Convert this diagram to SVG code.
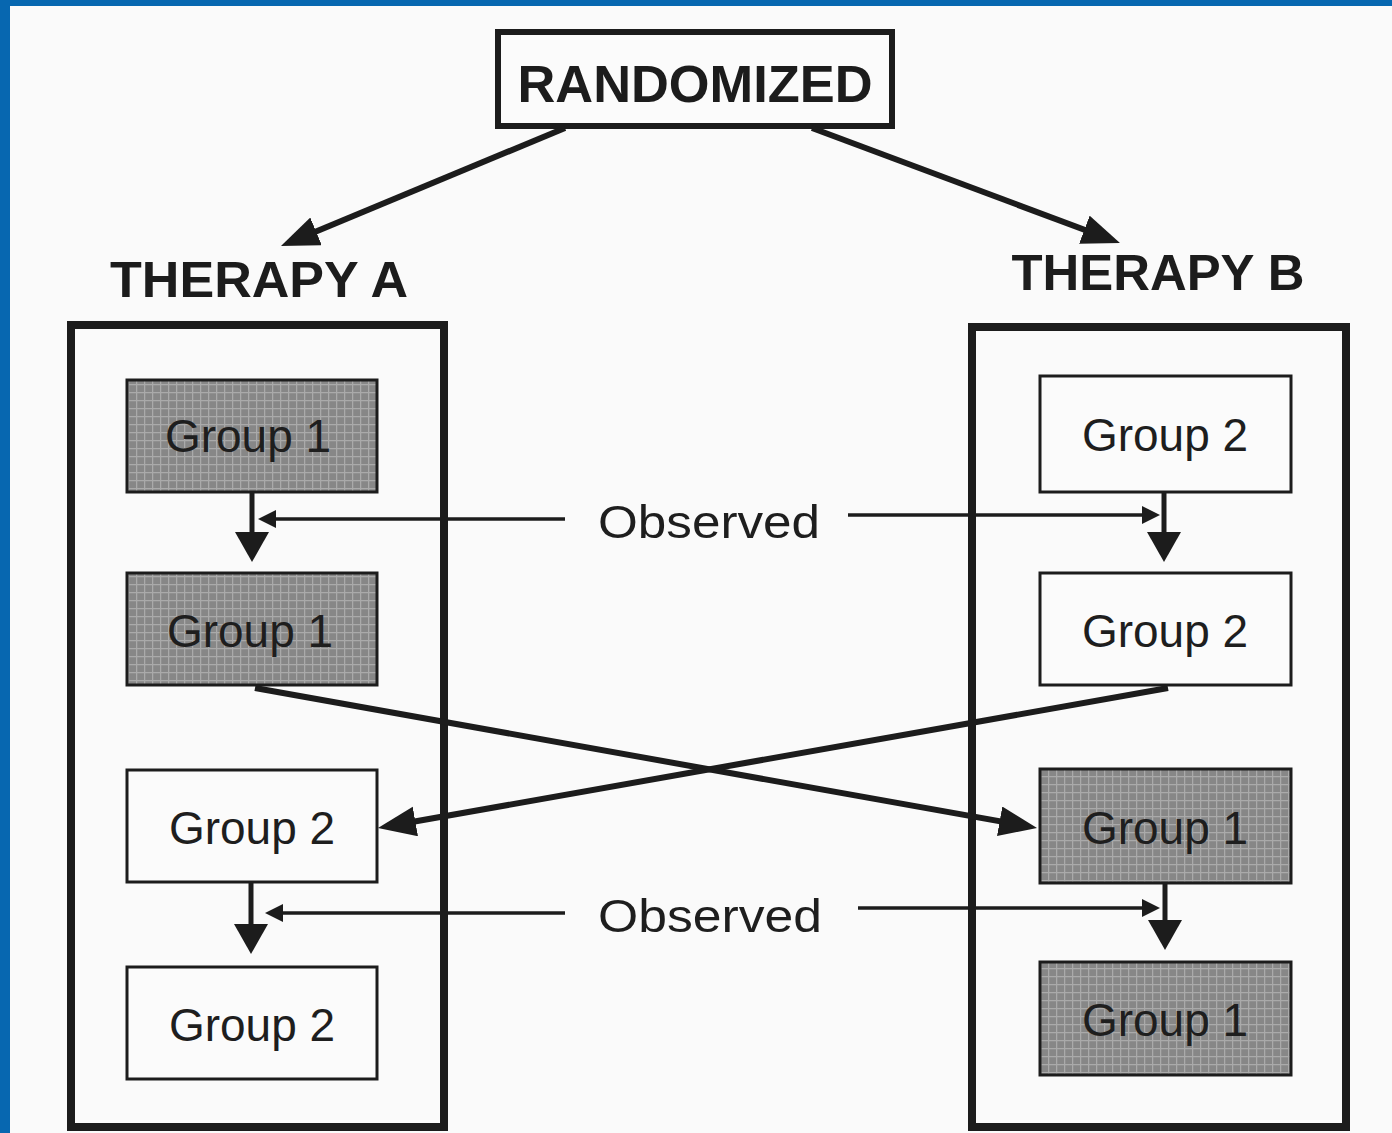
<svg xmlns="http://www.w3.org/2000/svg" width="1392" height="1133" viewBox="0 0 1392 1133">
<style>
.frame{fill:none;stroke:#1c1c1c;stroke-width:8}
.box{fill:#fbfbfb;stroke:#1c1c1c;stroke-width:3}
.shade{fill:url(#halftone);stroke:#1c1c1c;stroke-width:3}
.title{font-family:"Liberation Sans",Arial,sans-serif;font-weight:bold;fill:#1c1c1c}
.lbl{font-family:"Liberation Sans",Arial,sans-serif;font-size:46px;fill:#1e1e1e;text-anchor:middle}
.thick{stroke:#1c1c1c;stroke-width:6;fill:none}
.mid{stroke:#1c1c1c;stroke-width:5;fill:none}
.thin{stroke:#1c1c1c;stroke-width:3.5;fill:none}
</style>
<defs>
<pattern id="halftone" width="8" height="8" patternUnits="userSpaceOnUse">
<rect width="8" height="8" fill="#878787"/>
<path d="M0,0.5 H8 M0.5,0 V8" stroke="#aaaaaa" stroke-width="1.5"/>
</pattern>
<marker id="big" markerUnits="userSpaceOnUse" markerWidth="40" markerHeight="32" refX="28" refY="15" orient="auto">
<path d="M0,0 L38,15 L0,30 Z" fill="#1c1c1c"/>
</marker>
<marker id="down" markerUnits="userSpaceOnUse" markerWidth="32" markerHeight="36" refX="20" refY="17" orient="auto">
<path d="M0,0 L30,17 L0,34 Z" fill="#1c1c1c"/>
</marker>
<marker id="small" markerUnits="userSpaceOnUse" markerWidth="20" markerHeight="20" refX="10" refY="9" orient="auto">
<path d="M0,0 L18,9 L0,18 Z" fill="#1c1c1c"/>
</marker>
</defs>
<rect x="0" y="0" width="1392" height="1133" fill="#fafafa"/>
<rect x="0" y="0" width="1392" height="6" fill="#0767b0"/>
<rect x="0" y="0" width="10" height="1133" fill="#0767b0"/>

<g id="randomized">
<rect x="498" y="32" width="394" height="94" fill="#fbfbfb" stroke="#1c1c1c" stroke-width="6"/>
<text class="title" x="695" y="102" font-size="51" text-anchor="middle" textLength="355" lengthAdjust="spacingAndGlyphs">RANDOMIZED</text>
</g>

<g id="therapy-a">
<text class="title" x="259" y="297" font-size="50" text-anchor="middle" textLength="298" lengthAdjust="spacingAndGlyphs">THERAPY A</text>
<rect class="frame" x="71" y="325" width="373" height="802"/>
</g>

<g id="therapy-b">
<text class="title" x="1158" y="290" font-size="50" text-anchor="middle" textLength="293" lengthAdjust="spacingAndGlyphs">THERAPY B</text>
<rect class="frame" x="972" y="327" width="374" height="800"/>
</g>

<g id="a-group1-first">
<rect class="shade" x="127" y="380" width="250" height="112"/>
<text class="lbl" x="248" y="452">Group 1</text>
</g>
<g id="a-group1-second">
<rect class="shade" x="127" y="573" width="250" height="112"/>
<text class="lbl" x="250" y="647">Group 1</text>
</g>
<g id="a-group2-first">
<rect class="box" x="127" y="770" width="250" height="112"/>
<text class="lbl" x="252" y="844">Group 2</text>
</g>
<g id="a-group2-second">
<rect class="box" x="127" y="967" width="250" height="112"/>
<text class="lbl" x="252" y="1041">Group 2</text>
</g>

<g id="b-group2-first">
<rect class="box" x="1040" y="376" width="251" height="116"/>
<text class="lbl" x="1165" y="451">Group 2</text>
</g>
<g id="b-group2-second">
<rect class="box" x="1040" y="573" width="251" height="112"/>
<text class="lbl" x="1165" y="647">Group 2</text>
</g>
<g id="b-group1-first">
<rect class="shade" x="1040" y="769" width="251" height="114"/>
<text class="lbl" x="1165" y="844">Group 1</text>
</g>
<g id="b-group1-second">
<rect class="shade" x="1040" y="962" width="251" height="113"/>
<text class="lbl" x="1165" y="1036">Group 1</text>
</g>

<g id="observed-labels">
<text class="lbl" x="709" y="538" textLength="222" lengthAdjust="spacingAndGlyphs">Observed</text>
<text class="lbl" x="710" y="932" textLength="224" lengthAdjust="spacingAndGlyphs">Observed</text>
</g>

<g id="connectors">
<line class="thick" x1="565" y1="128" x2="290.2" y2="242.2" marker-end="url(#big)"/>
<line class="thick" x1="812" y1="128" x2="1110.6" y2="239.5" marker-end="url(#big)"/>
<line class="mid" x1="252" y1="492" x2="252" y2="552" marker-end="url(#down)"/>
<line class="mid" x1="251" y1="882" x2="251" y2="944" marker-end="url(#down)"/>
<line class="mid" x1="1164" y1="492" x2="1164" y2="552" marker-end="url(#down)"/>
<line class="mid" x1="1165" y1="883" x2="1165" y2="940" marker-end="url(#down)"/>
<line class="thin" x1="565" y1="519" x2="266" y2="519" marker-end="url(#small)"/>
<line class="thin" x1="848" y1="515" x2="1152" y2="515" marker-end="url(#small)"/>
<line class="thin" x1="565" y1="913" x2="273" y2="913" marker-end="url(#small)"/>
<line class="thin" x1="858" y1="908" x2="1152" y2="908" marker-end="url(#small)"/>
<line class="thick" x1="255" y1="688" x2="1027.2" y2="826.2" marker-end="url(#big)"/>
<line class="thick" x1="1168" y1="688" x2="387.8" y2="826.3" marker-end="url(#big)"/>
</g>
</svg>
